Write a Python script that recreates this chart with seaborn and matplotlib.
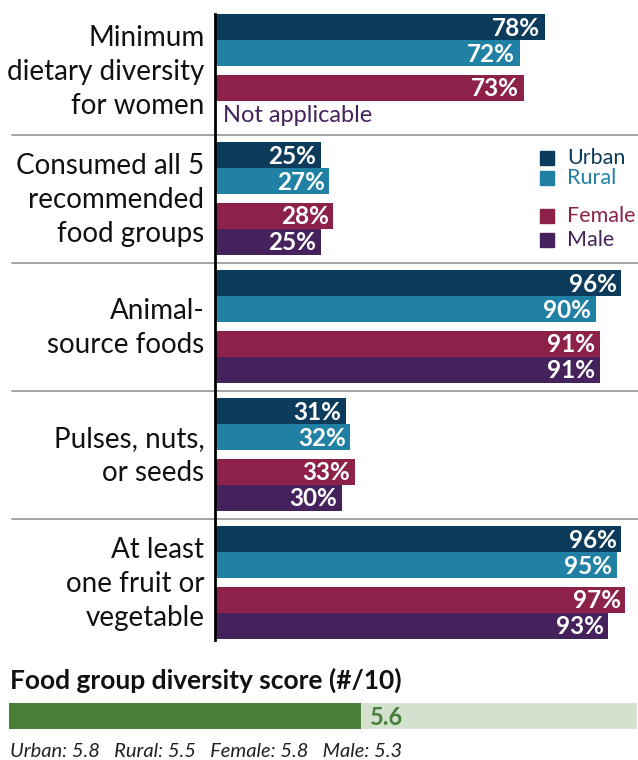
import numpy as np
import pandas as pd
import matplotlib
matplotlib.use("Agg")
import matplotlib.pyplot as plt
from matplotlib.patches import Rectangle
import seaborn as sns

# ---- data -------------------------------------------------------------
categories = [
    "Minimum\ndietary diversity\nfor women",
    "Consumed all 5\nrecommended\nfood groups",
    "Animal-\nsource foods",
    "Pulses, nuts,\nor seeds",
    "At least\none fruit or\nvegetable",
]
groups = ["Urban", "Rural", "Female", "Male"]
urban = [78, 25, 96, 31, 96]
rural = [72, 27, 90, 32, 95]
female = [73, 28, 91, 33, 97]
male = [np.nan, 25, 91, 30, 93]          # not measured for the women-only indicator

score_title = "Food group diversity score (#/10)"
score = 5.6
score_max = 10
score_groups = ["Urban", "Rural", "Female", "Male"]
score_values = [5.8, 5.5, 5.8, 5.3]

colors = {"Urban": "#0d3b5c", "Rural": "#2181a4", "Female": "#8c2249", "Male": "#45225b"}
score_dark = "#4a7f3a"
score_light = "#d3e2cf"

# ---- styling ----------------------------------------------------------
sns.set_theme(style="white")
plt.rcParams["font.family"] = ["Lato", "DejaVu Sans"]

W, H = 638, 760
fig = plt.figure(figsize=(W / 100, H / 100), dpi=100)


def fx(px):
    return px / W


def fy(py):
    return 1 - py / H


# ---- main bar panel ---------------------------------------------------
slot = [13, 39, 74, 100]   # bar centres inside one block (pixel-like units)
step = 128                 # block height

series = {"Urban": urban, "Rural": rural, "Female": female, "Male": male}
rows = []
for i, cat in enumerate(categories):
    for j, g in enumerate(groups):
        rows.append({"category": cat, "group": g, "value": series[g][i],
                     "pos": i * step + slot[j]})
df = pd.DataFrame(rows)
bars = df.dropna(subset=["value"])

ax = fig.add_axes([fx(215), fy(640), fx(638) - fx(215), (640 - 14) / H])
sns.barplot(data=bars, x="value", y="pos", hue="group", hue_order=groups,
            palette=colors, orient="y", native_scale=True, dodge=False,
            width=1.0, errorbar=None, legend=False, saturation=1,
            linewidth=0, ax=ax)
ax.set_xlim(0, 100)
ax.set_ylim(626, 0)
ax.set_xlabel("")
ax.set_ylabel("")
ax.set_xticks([])
ax.set_yticks([])
for s in ["top", "right", "bottom"]:
    ax.spines[s].set_visible(False)
ax.spines["left"].set_color("black")
ax.spines["left"].set_linewidth(2)
ax.spines["left"].set_zorder(5)

# block separators
for k in range(1, len(categories)):
    ax.axhline(k * step - 7, xmin=(12 - 215) / 423, xmax=1, color="#a3a3a3",
               lw=1.4, clip_on=False, zorder=0)

# category labels
for i, cat in enumerate(categories):
    ax.text(-2.5, i * step + 58, cat, ha="right", va="center", fontsize=20,
            color="#111111", linespacing=1.38, clip_on=False)

# value labels
for _, r in bars.iterrows():
    ax.text(r["value"] - 1.1, r["pos"] + 1, f"{r['value']:.0f}%", ha="right",
            va="center", color="white", fontsize=17.5, fontweight="bold")

# missing value note
for _, r in df[df["value"].isna()].iterrows():
    ax.text(1.9, r["pos"] + 1, "Not applicable", ha="left", va="center",
            color=colors[r["group"]], fontsize=17)

# legend
legend_y = [158, 178, 216, 240]
for g, yy in zip(groups, legend_y):
    fig.patches.append(Rectangle((fx(540), fy(yy + 7)), 14 / W, 14 / H,
                                 transform=fig.transFigure, color=colors[g]))
    fig.text(fx(567), fy(yy), g, ha="left", va="center", color=colors[g],
             fontsize=15.5)

# ---- score panel ------------------------------------------------------
fig.text(fx(10), fy(689), score_title, ha="left", va="baseline",
         fontsize=19, fontweight="bold", color="#111111")

ax2 = fig.add_axes([fx(9), fy(729), fx(637) - fx(9), 26 / H])
sns.barplot(x=[score_max], y=["score"], orient="y", color=score_light,
            width=1.0, saturation=1, linewidth=0, ax=ax2)
sns.barplot(x=[score], y=["score"], orient="y", color=score_dark,
            width=1.0, saturation=1, linewidth=0, ax=ax2)
ax2.set_xlim(0, score_max)
ax2.set_ylim(0.5, -0.5)
ax2.axis("off")
ax2.text(score + 0.14, 0.04, f"{score:.1f}", ha="left", va="center",
         color=score_dark, fontsize=17, fontweight="bold")

breakdown = "   ".join(f"{g}: {v:.1f}" for g, v in zip(score_groups, score_values))
fig.text(fx(10), fy(757), breakdown, ha="left", va="baseline", fontsize=14.5,
         fontstyle="italic", color="#222222")

fig.savefig("out.png", dpi=100)
